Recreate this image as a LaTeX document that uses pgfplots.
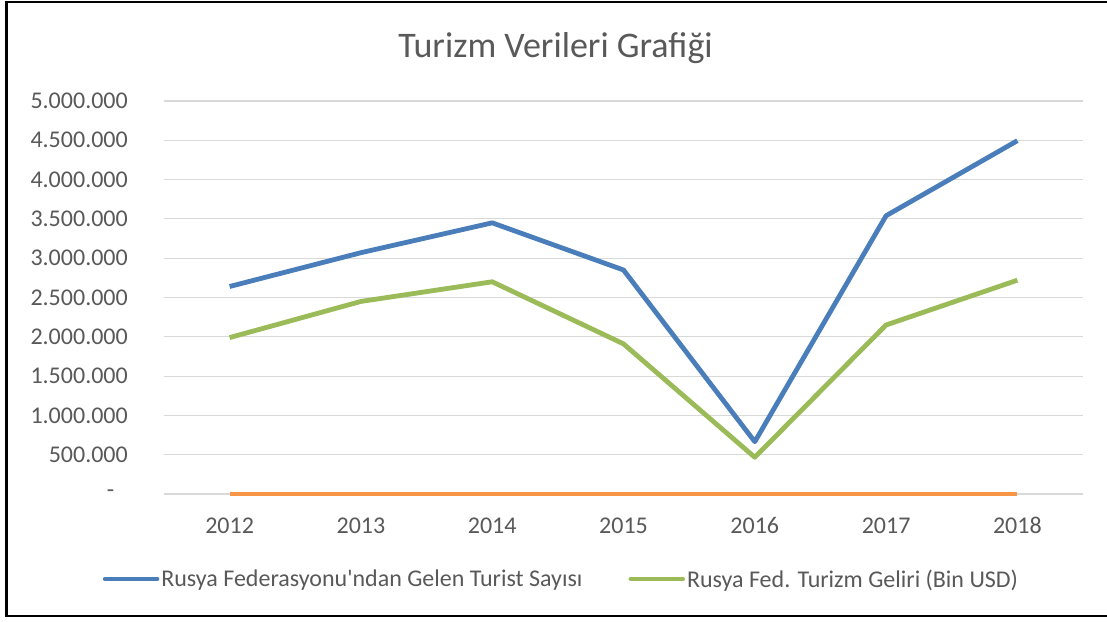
\documentclass[border=0pt]{standalone}
\usepackage{pgfplots}
\pgfplotsset{compat=1.18}
\usepackage{fontspec}
\setmainfont{Carlito}
\definecolor{txt}{HTML}{595959}
\definecolor{gridc}{HTML}{D9D9D9}
\definecolor{blu}{HTML}{4A7EBB}
\definecolor{grn}{HTML}{9BBB59}
\definecolor{org}{HTML}{F79646}
\begin{document}
\begin{tikzpicture}[x=1pt,y=1pt]
\useasboundingbox (0,0) rectangle (1107,621);
\fill[white] (0,0) rectangle (1107,621);
\draw[black, line width=2.5pt] (1107,619) -- (6.5,619) -- (6.5,5) -- (1107,5);
\node[anchor=base, font=\fontsize{36}{42}\selectfont, text=txt, inner sep=0pt] at (555.5,563) {Turizm Verileri Grafiği};
\begin{axis}[
  at={(164pt,127pt)}, anchor=south west,
  scale only axis, width=919pt, height=393pt,
  xmin=-0.5, xmax=6.5, ymin=0, ymax=5000000,
  clip=false, scaled y ticks=false,
  axis line style={draw=none}, major tick length=0pt,
  xtick={0,1,2,3,4,5,6},
  xticklabels={2012,2013,2014,2015,2016,2017,2018},
  ytick={0,500000,1000000,1500000,2000000,2500000,3000000,3500000,4000000,4500000,5000000},
  yticklabels={{\makebox[21pt][l]{-}},500.000,1.000.000,1.500.000,2.000.000,2.500.000,3.000.000,3.500.000,4.000.000,4.500.000,5.000.000},
  ymajorgrids, grid style={gridc, line width=1.2pt},
  xticklabel style={font=\fontsize{24}{28}\selectfont, text=txt, anchor=base, yshift=-39pt, inner sep=0pt},
  yticklabel style={font=\fontsize{24}{28}\selectfont, text=txt, anchor=east, inner sep=0pt, xshift=-36pt},
  legend style={at={(0.4325,-0.2163)}, anchor=center, draw=none, fill=none,
    font=\fontsize{24}{28}\selectfont, text=txt, inner sep=0pt,
    nodes={inner sep=2pt},
    /tikz/every even column/.append style={column sep=44pt}},
  legend columns=2, legend cell align=left,
  legend image code/.code={\draw[#1, line width=4.5pt, line cap=round] (0pt,0pt) -- (52pt,0pt);},
]
\addplot[blu, line width=4.8pt, line join=round] coordinates {
(0,2640000) (1,3070000) (2,3450000) (3,2850000) (4,665000) (5,3540000) (6,4495000)};
\addlegendentry{Rusya Federasyonu\textquotesingle ndan Gelen Turist Sayısı}
\addplot[org, line width=4.8pt, forget plot] coordinates {
(0,0) (1,0) (2,0) (3,0) (4,0) (5,0) (6,0)};
\addplot[grn, line width=4.8pt, line join=round] coordinates {
(0,1990000) (1,2450000) (2,2700000) (3,1910000) (4,467000) (5,2150000) (6,2720000)};
\addlegendentry{Rusya Fed. Turizm Geliri (Bin USD)}
\end{axis}
\end{tikzpicture}
\end{document}
